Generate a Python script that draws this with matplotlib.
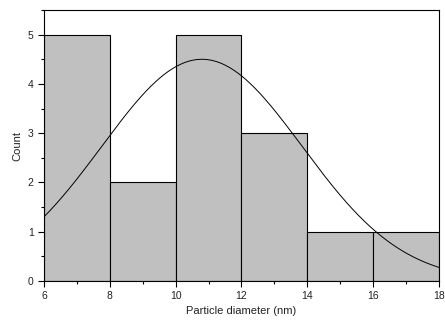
import numpy as np
import matplotlib
matplotlib.use("Agg")
import matplotlib.pyplot as plt
from matplotlib.ticker import MultipleLocator

plt.rcParams['font.family'] = ['Liberation Sans', 'DejaVu Sans']

# Histogram of particle diameters
bin_edges = [6, 8, 10, 12, 14, 16, 18]
counts = [5, 2, 5, 3, 1, 1]

# Gaussian fit parameters
fit_amp = 4.5
fit_mean = 10.8
fit_sigma = 3.05

fig = plt.figure(figsize=(4.45, 3.23), dpi=100)
ax = fig.add_axes([0.099, 0.130, 0.887, 0.839])

lefts = bin_edges[:-1]
widths = np.diff(bin_edges)
ax.bar(lefts, counts, width=widths, align='edge', color='#c0c0c0',
       edgecolor='black', linewidth=0.8, zorder=2)

xs = np.linspace(bin_edges[0], bin_edges[-1], 400)
ys = fit_amp * np.exp(-(xs - fit_mean) ** 2 / (2 * fit_sigma ** 2))
ax.plot(xs, ys, color='black', linewidth=0.7, zorder=3)

ax.set_xlim(6, 18)
ax.set_ylim(0, 5.5)
ax.xaxis.set_major_locator(MultipleLocator(2))
ax.xaxis.set_minor_locator(MultipleLocator(1))
ax.yaxis.set_major_locator(MultipleLocator(1))
ax.yaxis.set_minor_locator(MultipleLocator(0.5))
ax.tick_params(which='both', direction='out', labelsize=7.5, width=0.8,
               labelcolor='#222222')
ax.tick_params(which='major', length=4)
ax.tick_params(which='minor', length=2)
for s in ax.spines.values():
    s.set_linewidth(0.8)

ax.set_xlabel('Particle diameter (nm)', fontsize=8, labelpad=3, color='#222222')
ax.set_ylabel('Count', fontsize=8, labelpad=4, color='#222222')

fig.savefig('out.png', dpi=100)
